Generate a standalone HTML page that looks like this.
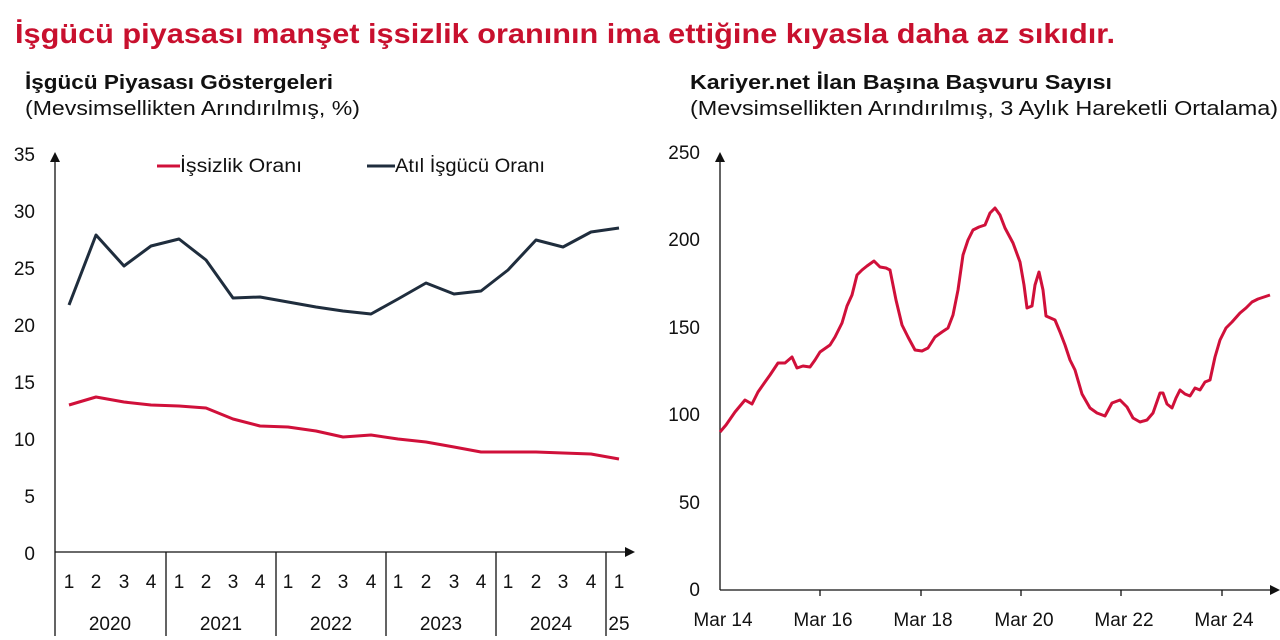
<!DOCTYPE html>
<html><head><meta charset="utf-8"><style>body{margin:0;background:#fff}svg{display:block}text{font-family:"Liberation Sans",sans-serif}</style></head><body>
<svg width="1280" height="640" viewBox="0 0 1280 640" xmlns="http://www.w3.org/2000/svg">
<text x="15" y="43" font-size="28" font-weight="bold" fill="#c8102e" textLength="1100" lengthAdjust="spacingAndGlyphs">İşgücü piyasası manşet işsizlik oranının ima ettiğine kıyasla daha az sıkıdır.</text>
<text x="25" y="89" font-size="20" font-weight="bold" fill="#111" textLength="308" lengthAdjust="spacingAndGlyphs">İşgücü Piyasası Göstergeleri</text>
<text x="25" y="115" font-size="20" fill="#111" textLength="335" lengthAdjust="spacingAndGlyphs">(Mevsimsellikten Arındırılmış, %)</text>
<text x="690" y="89" font-size="20" font-weight="bold" fill="#111" textLength="422" lengthAdjust="spacingAndGlyphs">Kariyer.net İlan Başına Başvuru Sayısı</text>
<text x="690" y="115" font-size="20" fill="#111" textLength="588" lengthAdjust="spacingAndGlyphs">(Mevsimsellikten Arındırılmış, 3 Aylık Hareketli Ortalama)</text>

<g font-size="19" fill="#111" text-anchor="end">
<text x="35" y="161">35</text><text x="35" y="218">30</text><text x="35" y="275">25</text><text x="35" y="332">20</text><text x="35" y="389">15</text><text x="35" y="446">10</text><text x="35" y="503">5</text><text x="35" y="560">0</text>
</g>
<g stroke="#111" stroke-width="1.3" fill="none">
<line x1="55" y1="552" x2="55" y2="160"/><line x1="55" y1="552" x2="627" y2="552"/>
<line x1="55" y1="552" x2="55" y2="636"/><line x1="166" y1="552" x2="166" y2="636"/><line x1="276" y1="552" x2="276" y2="636"/><line x1="386" y1="552" x2="386" y2="636"/><line x1="496" y1="552" x2="496" y2="636"/><line x1="606" y1="552" x2="606" y2="636"/>
</g>
<polygon points="50,162 60,162 55,152" fill="#111"/><polygon points="625,547 625,557 635,552" fill="#111"/>
<g font-size="19" fill="#111" text-anchor="middle">
<text x="69" y="588">1</text><text x="96" y="588">2</text><text x="124" y="588">3</text><text x="151" y="588">4</text>
<text x="179" y="588">1</text><text x="206" y="588">2</text><text x="233" y="588">3</text><text x="260" y="588">4</text>
<text x="288" y="588">1</text><text x="316" y="588">2</text><text x="343" y="588">3</text><text x="371" y="588">4</text>
<text x="398" y="588">1</text><text x="426" y="588">2</text><text x="454" y="588">3</text><text x="481" y="588">4</text>
<text x="508" y="588">1</text><text x="536" y="588">2</text><text x="563" y="588">3</text><text x="591" y="588">4</text>
<text x="619" y="588">1</text>
<text x="110" y="630">2020</text><text x="221" y="630">2021</text><text x="331" y="630">2022</text><text x="441" y="630">2023</text><text x="551" y="630">2024</text><text x="619" y="630">25</text>
</g>
<line x1="157" y1="166" x2="180" y2="166" stroke="#d0103a" stroke-width="3"/>
<text x="180" y="172" font-size="19" fill="#111" textLength="122" lengthAdjust="spacingAndGlyphs">İşsizlik Oranı</text>
<line x1="367" y1="166" x2="395" y2="166" stroke="#1f2d3d" stroke-width="3"/>
<text x="395" y="172" font-size="19" fill="#111" textLength="150" lengthAdjust="spacingAndGlyphs">Atıl İşgücü Oranı</text>
<polyline fill="none" stroke="#1f2d3d" stroke-width="3" stroke-linejoin="round" points="69,305 96,235 124,266 151,246 179,239 206,260 233,298 260,297 288,302 316,307 343,311 371,314 398,299 426,283 454,294 481,291 508,270 536,240 563,247 591,232 619,228"/>
<polyline fill="none" stroke="#d0103a" stroke-width="3" stroke-linejoin="round" points="69,405 96,397 124,402 151,405 179,406 206,408 233,419 260,426 288,427 316,431 343,437 371,435 398,439 426,442 454,447 481,452 508,452 536,452 563,453 591,454 619,459"/>

<g font-size="19" fill="#111" text-anchor="end">
<text x="700" y="159">250</text><text x="700" y="246">200</text><text x="700" y="334">150</text><text x="700" y="421">100</text><text x="700" y="509">50</text><text x="700" y="596">0</text>
</g>
<g stroke="#111" stroke-width="1.3">
<line x1="720" y1="590" x2="720" y2="160"/><line x1="720" y1="590" x2="1272" y2="590"/>
<line x1="820" y1="590" x2="820" y2="596"/><line x1="921" y1="590" x2="921" y2="596"/><line x1="1021" y1="590" x2="1021" y2="596"/><line x1="1121" y1="590" x2="1121" y2="596"/><line x1="1222" y1="590" x2="1222" y2="596"/>
</g>
<polygon points="715,162 725,162 720,152" fill="#111"/><polygon points="1270,585 1270,595 1280,590" fill="#111"/>
<g font-size="19" fill="#111" text-anchor="middle">
<text x="723" y="626">Mar 14</text><text x="823" y="626">Mar 16</text><text x="923" y="626">Mar 18</text><text x="1024" y="626">Mar 20</text><text x="1124" y="626">Mar 22</text><text x="1224" y="626">Mar 24</text>
</g>
<polyline fill="none" stroke="#d0103a" stroke-width="3" stroke-linejoin="round" points="720,432 726,425 735,412 745,400 752,404 758,392 765,382 770,375 778,363 785,363 792,357 797,368 803,366 810,367 815,360 820,352 830,345 835,337 842,323 847,306 852,295 857,275 862,270 867,266 874,261 880,267 886,268 890,270 896,300 902,325 908,337 915,350 922,351 928,348 935,337 942,332 948,328 953,315 958,290 963,255 968,240 973,230 979,227 985,225 990,213 995,208 1000,215 1005,228 1013,243 1020,262 1024,285 1027,308 1032,306 1035,285 1039,272 1043,290 1046,316 1055,320 1060,332 1065,345 1070,360 1075,370 1082,394 1090,408 1097,413 1105,416 1112,403 1120,400 1127,407 1133,418 1140,422 1147,420 1153,413 1160,393 1163,393 1167,404 1172,408 1176,398 1180,390 1185,394 1190,396 1195,388 1200,390 1205,382 1210,380 1215,357 1220,340 1226,328 1232,322 1240,313 1246,308 1252,302 1258,299 1264,297 1270,295"/>
</svg>
</body></html>
